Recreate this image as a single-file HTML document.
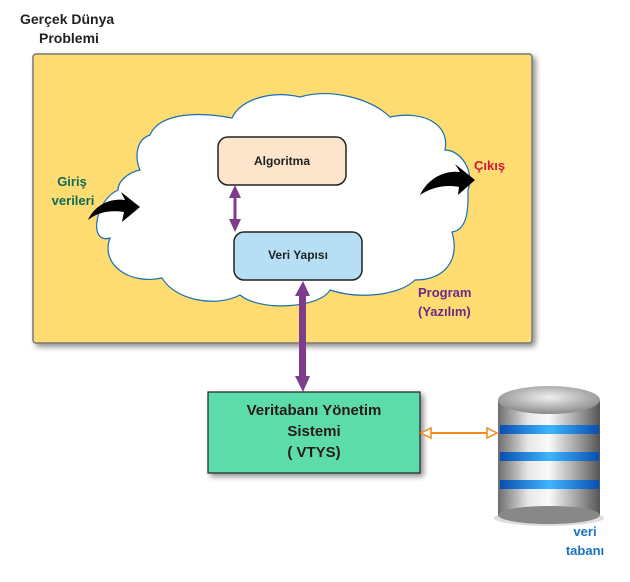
<!DOCTYPE html>
<html><head><meta charset="utf-8"><style>
body{margin:0;background:#fff;width:630px;height:577px;overflow:hidden;font-family:"Liberation Sans",sans-serif}
</style></head><body>
<svg width="630" height="577" viewBox="0 0 630 577" xmlns="http://www.w3.org/2000/svg" font-family="Liberation Sans, sans-serif">
<defs>
<filter id="sh" x="-10%" y="-10%" width="130%" height="130%"><feDropShadow dx="3" dy="3" stdDeviation="3" flood-color="#000" flood-opacity="0.45"/></filter>
<linearGradient id="cyl" x1="0" x2="1"><stop offset="0" stop-color="#6d6d6d"/><stop offset="0.3" stop-color="#e8e8e8"/><stop offset="0.5" stop-color="#fafafa"/><stop offset="0.8" stop-color="#9a9a9a"/><stop offset="1" stop-color="#555"/></linearGradient>
<linearGradient id="blu" x1="0" x2="1"><stop offset="0" stop-color="#0a4fb0"/><stop offset="0.5" stop-color="#3fb5ff"/><stop offset="1" stop-color="#0a4fb0"/></linearGradient>
<radialGradient id="top" cx="0.5" cy="0.4" r="0.6"><stop offset="0" stop-color="#f0f0f0"/><stop offset="1" stop-color="#8a8a8a"/></radialGradient>
</defs>
<text x="20" y="24" font-size="14" font-weight="bold" fill="#222">Gerçek Dünya</text>
<text x="39" y="43" font-size="14" font-weight="bold" fill="#222">Problemi</text>
<rect x="33" y="54" width="499" height="289" rx="3" fill="#fedc72" stroke="#777" stroke-width="1.5" filter="url(#sh)"/>
<path d="M118,190 C95,200 88,245 110,238 C100,265 130,285 162,278 C175,300 215,308 240,295 C260,312 320,308 330,290 C360,300 400,295 415,280 C445,280 460,260 452,232 C470,230 468,200 468,190 C475,170 460,150 445,150 C450,125 425,110 390,117 C370,98 330,88 300,97 C270,90 240,100 232,118 C190,110 158,116 150,135 C135,140 135,160 140,170 C130,172 118,180 118,190 Z" fill="#fff" stroke="#1a6fb0" stroke-width="1.2"/>
<rect x="218" y="137" width="128" height="48" rx="10" fill="#fde5cc" stroke="#222" stroke-width="1.5"/>
<text x="282" y="165" font-size="12" font-weight="bold" fill="#222" text-anchor="middle">Algoritma</text>
<rect x="234" y="232" width="128" height="48" rx="10" fill="#b6dff5" stroke="#222" stroke-width="1.5"/>
<text x="298" y="259" font-size="12" font-weight="bold" fill="#222" text-anchor="middle">Veri Yapısı</text>
<line x1="235" y1="196" x2="235" y2="221" stroke="#7d3c8c" stroke-width="3"/>
<polygon points="229,198 241,198 235,185" fill="#7d3c8c"/>
<polygon points="229,219 241,219 235,232" fill="#7d3c8c"/>
<rect x="299" y="295" width="7" height="82" fill="#7d3c8c"/>
<polygon points="295,296 310,296 303,281" fill="#7d3c8c"/>
<polygon points="295,376 310,376 303,392" fill="#7d3c8c"/>
<path d="M88,220 C95,205 110,198 125,200 L121,192 L140,207 L122,222 L124,212 C110,210 98,212 88,220 Z" fill="#000"/>
<path d="M420,195 C428,178 445,170 460,172 L455,164 L475,180 L458,195 L459,187 C445,184 430,188 420,195 Z" fill="#000"/>
<text x="72" y="186" font-size="13" font-weight="bold" fill="#0f6a5a" text-anchor="middle">Giriş</text>
<text x="73" y="205" font-size="13" font-weight="bold" fill="#0f6a5a" text-anchor="middle">verileri</text>
<text x="474" y="170" font-size="13" font-weight="bold" fill="#d01a3a">Çıkış</text>
<text x="418" y="297" font-size="13" font-weight="bold" fill="#6a2a86">Program</text>
<text x="418" y="316" font-size="13" font-weight="bold" fill="#6a2a86">(Yazılım)</text>
<rect x="208" y="392" width="212" height="81" fill="#5cdcaa" stroke="#222" stroke-width="1.2" filter="url(#sh)"/>
<text x="314" y="415" font-size="15" font-weight="bold" fill="#2a1a1a" text-anchor="middle">Veritabanı Yönetim</text>
<text x="314" y="436" font-size="15" font-weight="bold" fill="#2a1a1a" text-anchor="middle">Sistemi</text>
<text x="314" y="457" font-size="15" font-weight="bold" fill="#2a1a1a" text-anchor="middle">( VTYS)</text>
<line x1="428" y1="433" x2="490" y2="433" stroke="#f08a1a" stroke-width="2"/>
<polygon points="421,433 431,428 431,438" fill="#fff" stroke="#f08a1a" stroke-width="1.5"/>
<polygon points="497,433 487,428 487,438" fill="#fff" stroke="#f08a1a" stroke-width="1.5"/>
<ellipse cx="549" cy="518" rx="55" ry="8" fill="#ddd"/>
<rect x="498" y="400" width="102" height="115" fill="url(#cyl)"/>
<ellipse cx="549" cy="515" rx="51" ry="9" fill="#888"/>
<rect x="500" y="425" width="99" height="9" fill="url(#blu)"/>
<rect x="500" y="452" width="99" height="9" fill="url(#blu)"/>
<rect x="500" y="480" width="99" height="9" fill="url(#blu)"/>
<ellipse cx="549" cy="400" rx="51" ry="14" fill="url(#top)"/>
<text x="585" y="536" font-size="13" font-weight="bold" fill="#1a72c0" text-anchor="middle">veri</text>
<text x="585" y="555" font-size="13" font-weight="bold" fill="#1a72c0" text-anchor="middle">tabanı</text>
</svg>
</body></html>
